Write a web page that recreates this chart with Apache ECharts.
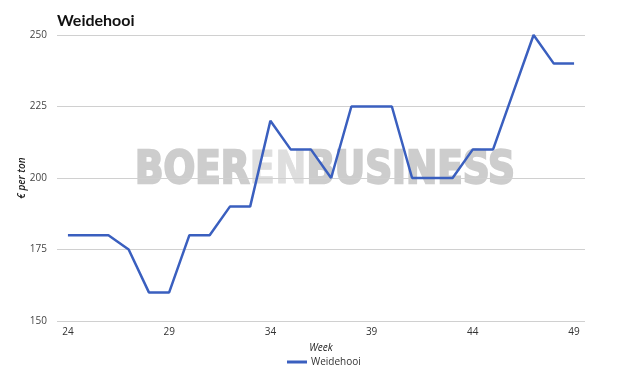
<!DOCTYPE html>
<html><head><meta charset="utf-8">
<script src="https://cdn.jsdelivr.net/npm/echarts@6/dist/echarts.min.js"></script>
<style>html,body{margin:0;padding:0;background:#fff}#c{width:625px;height:374px}</style>
</head><body><div id="c"></div>
<script>
const weeks = [24,25,26,27,28,29,30,31,32,33,34,35,36,37,38,39,40,41,42,43,44,45,46,47,48,49];
const values = [180,180,180,175,160,160,180,180,190,190,220,210,210,200,225,225,225,200,200,200,210,210,230,250,240,240];
const xTicks = [24,29,34,39,44,49];
const seriesName = 'Weidehooi';

const chart = echarts.init(document.getElementById('c'));
chart.setOption({
  animation: false,
  backgroundColor: '#fff',
  title: {text: 'Weidehooi', left: 52, top: 8, textStyle: {fontFamily: 'Lato', fontWeight: 'bold', fontSize: 16, color: '#111'}},
  graphic: [{
    type: 'text', x: 325, y: 171, scaleX: 0.83, z: 0, silent: true,
    style: {
      x: 0, y: 0, align: 'center', verticalAlign: 'middle',
      rich: {
        a: {fontFamily: 'DejaVu Sans', fontWeight: 'bold', fontSize: 45, fill: '#cdcdcd', stroke: '#cdcdcd', lineWidth: 2.4},
        b: {fontFamily: 'DejaVu Sans', fontWeight: 'bold', fontSize: 45, fill: '#dedede', stroke: '#dedede', lineWidth: 1}
      },
      text: '{a|BOER}{b|EN}{a|BUSINESS}'
    }
  }],
  legend: {bottom: 2, left: 282, itemWidth: 20, itemHeight: 3, icon: 'rect',
    textStyle: {fontFamily: 'Open Sans', fontSize: 10, color: '#333', padding: [0, 0, 0, -1]}, data: [seriesName]},
  grid: {left: 57, right: 40, top: 35, bottom: 53},
  xAxis: {
    type: 'value', min: 23.46, max: 49.54,
    name: 'Week', nameLocation: 'middle', nameGap: 22,
    nameTextStyle: {fontFamily: 'Open Sans', fontStyle: 'italic', fontSize: 10, color: '#222'},
    axisLine: {show: false}, axisTick: {show: false}, splitLine: {show: false},
    axisLabel: {customValues: xTicks, fontFamily: 'Open Sans', fontSize: 10, color: '#333', margin: 6}
  },
  yAxis: {
    type: 'value', min: 150, max: 250, interval: 25,
    name: '€ per ton', nameLocation: 'middle', nameGap: 30, nameRotate: 90, nameMoveOverlap: false,
    nameTextStyle: {fontFamily: 'Open Sans', fontStyle: 'italic', fontWeight: 600, fontSize: 10, color: '#222'},
    axisLine: {show: false}, axisTick: {show: false},
    splitLine: {lineStyle: {color: '#d0d0d0', width: 1}},
    axisLabel: {fontFamily: 'Open Sans', fontSize: 10, color: '#444', margin: 10}
  },
  series: [{
    name: seriesName, type: 'line', z: 5,
    data: weeks.map((w, i) => [w, values[i]]),
    showSymbol: false, symbol: 'none',
    lineStyle: {color: '#3a5fbf', width: 2.5},
    itemStyle: {color: '#3a5fbf'}
  }]
});
</script></body></html>
